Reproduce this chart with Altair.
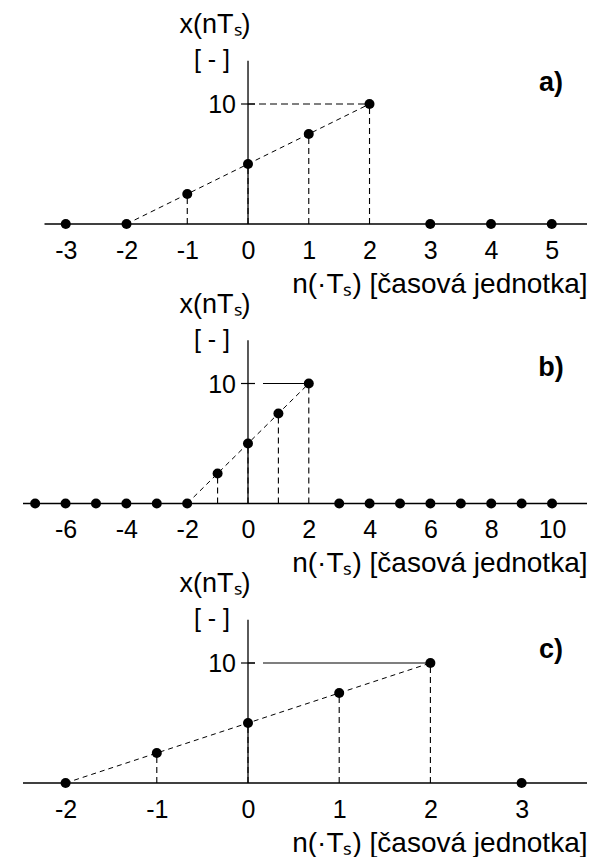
import altair as alt
import pandas as pd

# ---- data ----
n_a = [-3, -2, -1, 0, 1, 2, 3, 4, 5]
x_a = [0, 0, 2.5, 5, 7.5, 10, 0, 0, 0]

n_b = [-7, -6, -5, -4, -3, -2, -1, 0, 1, 2, 3, 4, 5, 6, 7, 8, 9, 10]
x_b = [0, 0, 0, 0, 0, 0, 2.5, 5, 7.5, 10, 0, 0, 0, 0, 0, 0, 0, 0]

n_c = [-2, -1, 0, 1, 2, 3]
x_c = [0, 2.5, 5, 7.5, 10, 0]

ticks_a = [-3, -2, -1, 0, 1, 2, 3, 4, 5]
ticks_b = [-6, -4, -2, 0, 2, 4, 6, 8, 10]
ticks_c = [-2, -1, 0, 1, 2, 3]

# x-scale domains and extent of the horizontal axis line (data units)
domain_a = [-3.704, 5.58]
domain_b = [-7.40, 11.15]
domain_c = [-2.467, 3.717]
span_a = [-3.35, 5.58]
span_b = [-7.40, 11.15]
span_c = [-2.467, 3.717]

y_domain = [0, 18]
y_axis_top = 13.6
ramp_range = [-2, 2]
y_tick_label = "10"

panel_labels = ["a)", "b)", "c)"]
y_label = "x(nTₛ)"
y_unit = "[ - ]"
x_title = "n(·Tₛ) [časová jednotka]"

FONT = "Liberation Sans"
W, H = 564, 216


def panel(n, x, ticks, dom, span, label, label_y, guide_dash):
    df = pd.DataFrame({"n": n, "y": x})
    xs = alt.Scale(domain=dom, nice=False, zero=False)
    ys = alt.Scale(domain=y_domain, nice=False, zero=False)
    xaxis = alt.Axis(
        values=ticks, title=x_title, domain=False, ticks=False, grid=False,
        labelFontSize=25, labelFont=FONT, labelColor="black", labelPadding=14,
        labelExpr="datum.value + ''", labelFlush=False, labelOverlap=False,
        titleFontSize=28, titleFont=FONT, titleFontWeight="normal",
        titleColor="black", titleAnchor="end", titlePadding=7,
    )

    def X(f):
        return alt.X(f, type="quantitative", scale=xs, axis=xaxis)

    def Y(f):
        return alt.Y(f, type="quantitative", scale=ys, axis=None)

    level = max(x)
    top_n = n[x.index(level)]

    haxis = alt.Chart(pd.DataFrame({"n": [span[0]], "n2": [span[1]], "y": [0]})).mark_rule(
        color="black", strokeWidth=1.3).encode(x=X("n"), x2="n2", y=Y("y"))
    vaxis = alt.Chart(pd.DataFrame({"n": [0], "y": [0], "y2": [y_axis_top]})).mark_rule(
        color="black", strokeWidth=1.3).encode(x=X("n"), y=Y("y"), y2="y2")
    tick = alt.Chart(pd.DataFrame({"n": [0], "y": [level]})).mark_point(
        shape="M-1,0L1,0", size=196, filled=False, color="black", strokeWidth=1.2,
        opacity=1).encode(x=X("n"), y=Y("y"))
    tick_lbl = alt.Chart(pd.DataFrame({"n": [0], "y": [level], "t": [y_tick_label]})).mark_text(
        font=FONT, fontSize=25, color="black", align="right", baseline="middle",
        dx=-12, dy=1).encode(x=X("n"), y=Y("y"), text="t:N")
    guide = alt.Chart(pd.DataFrame({"n": [0], "n2": [top_n], "y": [level]})).mark_rule(
        color="black", strokeWidth=1.1, strokeDash=guide_dash).encode(x=X("n"), x2="n2", y=Y("y"))
    stems_df = df[df["y"] > 0].assign(y0=0)
    stems = alt.Chart(stems_df).mark_rule(
        color="black", strokeWidth=1.1, strokeDash=[6, 4]).encode(x=X("n"), y=Y("y0"), y2="y")
    ramp_df = df[(df["n"] >= ramp_range[0]) & (df["n"] <= ramp_range[1])]
    ramp = alt.Chart(ramp_df).mark_line(
        color="black", strokeWidth=1.0, strokeDash=[5, 4]).encode(x=X("n"), y=Y("y"))
    pts = alt.Chart(df).mark_circle(size=100, color="black", opacity=1).encode(x=X("n"), y=Y("y"))

    t1 = alt.Chart(pd.DataFrame({"t": [y_label]})).mark_text(
        font=FONT, fontSize=27, color="black", align="center", baseline="middle").encode(
        text="t:N", x=alt.value(192), y=alt.value(17))
    t2 = alt.Chart(pd.DataFrame({"t": [y_unit]})).mark_text(
        font=FONT, fontSize=25, color="black", align="center", baseline="middle").encode(
        text="t:N", x=alt.value(189), y=alt.value(52))
    t3 = alt.Chart(pd.DataFrame({"t": [label]})).mark_text(
        font=FONT, fontSize=27, fontWeight="bold", color="black", align="center",
        baseline="middle").encode(text="t:N", x=alt.value(528), y=alt.value(label_y))

    return alt.layer(haxis, vaxis, tick, tick_lbl, guide, stems, ramp, pts, t1, t2, t3).properties(
        width=W, height=H)


pa = panel(n_a, x_a, ticks_a, domain_a, span_a, panel_labels[0], 75, [7, 4])
pb = panel(n_b, x_b, ticks_b, domain_b, span_b, panel_labels[1], 80, [7, 8, 2000])
pc = panel(n_c, x_c, ticks_c, domain_c, span_c, panel_labels[2], 83, [7, 8, 2000])

chart = alt.vconcat(pa, pb, pc, spacing=63.5, bounds="flush").properties(
    padding={"left": 14, "top": 0, "right": 0, "bottom": 0}
).configure_view(strokeWidth=0, stroke=None)

chart.save("out.html", embed_options={"renderer": "svg", "actions": False})
